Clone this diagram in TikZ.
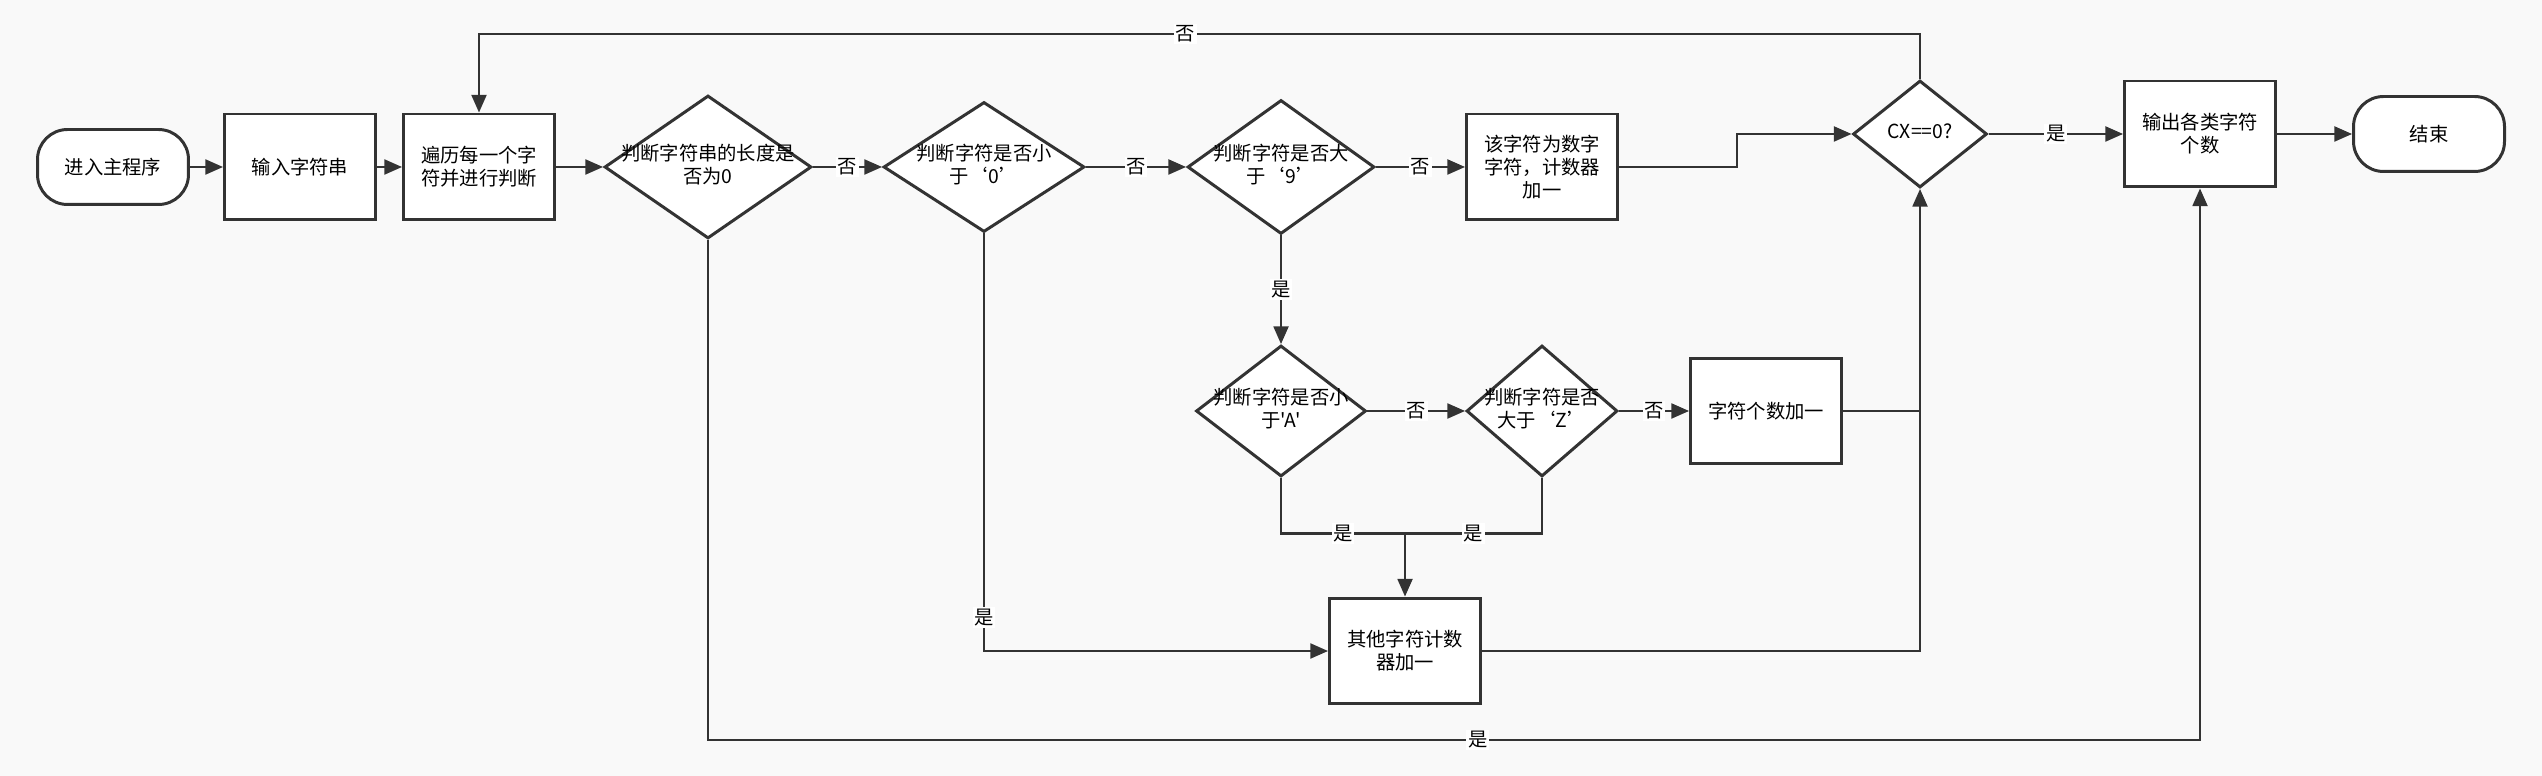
\documentclass[tikz,border=0pt]{standalone}
\usepackage{fontspec}
\setmainfont{Noto Sans CJK SC}[Ligatures=TeXOff]
\usepackage{tikz}
\usetikzlibrary{arrows.meta, shapes, calc, backgrounds, positioning}
\usepackage{xcolor}
\definecolor{linegray}{HTML}{333333}
\definecolor{bggray}{HTML}{F9F9F9}

% text of a diamond, allowed to run over its border
\newcommand{\dt}[1]{\raisebox{-0.25em}[0pt][0pt]{\makebox[0pt]{\begin{tabular}{@{}c@{}}#1\end{tabular}}}}

\tikzset{
  box/.style={draw=linegray, line width=1.7pt, fill=white, minimum width=3.02cm, minimum height=2.12cm, align=center, inner sep=2pt},
  term/.style={box, minimum height=1.5cm, rounded corners=0.6cm},
  dia/.style={draw=linegray, diamond, line width=1.7pt, fill=white, inner sep=0pt},
  wire/.style={draw=linegray, line width=1.2pt},
  arr/.style={wire, -{Triangle[length=10pt,width=8.5pt]}},
  lbl/.style={fill=white, inner sep=1pt}
}

\begin{document}
\begin{tikzpicture}[x=0.02cm, y=-0.02cm, font=\fontsize{11}{13}\selectfont]
  \fill[bggray] (0,0) rectangle (2542,776);
  \useasboundingbox (0,0) rectangle (2542,776);

  % first row
  \node[term] (start) at (113,167) {进入主程序};
  \node[box] (input) at (300,167) {输入字符串};
  \node[box] (trav) at (479,167) {遍历每一个字\\符并进行判断};
  \node[dia, minimum width=4.14cm, minimum height=2.86cm] (d1) at (708,167) {\dt{判断字符串的长度是\\否为0}};
  \node[dia, minimum width=4.02cm, minimum height=2.6cm] (d2) at (984,167) {\dt{判断字符是否小\\于‘0’}};
  \node[dia, minimum width=3.74cm, minimum height=2.68cm] (d3) at (1281,167) {\dt{判断字符是否大\\于‘9’}};
  \node[box] (dig) at (1542,167) {该字符为数字\\字符，计数器\\加一};

  % right part
  \node[dia, minimum width=2.68cm, minimum height=2.14cm] (cx) at (1920,134) {\dt{CX==0?}};
  \node[box] (out) at (2200,134) {输出各类字符\\个数};
  \node[term] (finish) at (2429,134) {结束};

  % letters
  \node[dia, minimum width=3.4cm, minimum height=2.62cm] (dA) at (1281,411) {\dt{判断字符是否小\\于'A'}};
  \node[dia, minimum width=3.02cm, minimum height=2.62cm] (dZ) at (1542,411) {\dt{判断字符是否\\大于‘Z’}};
  \node[box] (cc) at (1766,411) {字符个数加一};
  \node[box] (other) at (1405,651) {其他字符计数\\器加一};
  \coordinate (merge) at ($(other.north)+(0,-63)$);

  % connectors
  \draw[arr] (start) -- (input);
  \draw[arr] (input) -- (trav);
  \draw[arr] (trav) -- (d1);
  \draw[arr] (d1) -- node[lbl]{否} (d2);
  \draw[arr] (d2) -- node[lbl]{否} (d3);
  \draw[arr] (d3) -- node[lbl]{否} (dig);
  \draw[arr] (dig.east) -- ++(118,0) |- (cx.west);
  \draw[arr] (cx) -- node[lbl]{是} (out);
  \draw[arr] (out) -- (finish);
  \draw[arr] (cx.north) -- ++(0,-45) -| node[lbl, pos=0.255]{否} (trav.north);
  \draw[arr] (d1.south) -- ++(0,500) -| node[lbl, pos=0.258]{是} (out.south);
  \draw[arr] (d2.south) |- node[lbl, pos=0.46]{是} (other.west);
  \draw[arr] (d3.south) -- node[lbl]{是} (dA.north);
  \draw[arr] (dA) -- node[lbl]{否} (dZ);
  \draw[arr] (dZ) -- node[lbl]{否} (cc);
  \draw[wire] (dA.south) |- node[lbl, pos=0.75]{是} (merge);
  \draw[wire] (dZ.south) |- node[lbl, pos=0.75]{是} (merge);
  \draw[arr] (merge) -- (other.north);
  \draw[wire] (cc.east) -- (cc.east -| cx.south);
  \draw[arr] (other.east) -| (cx.south);
\end{tikzpicture}
\end{document}
